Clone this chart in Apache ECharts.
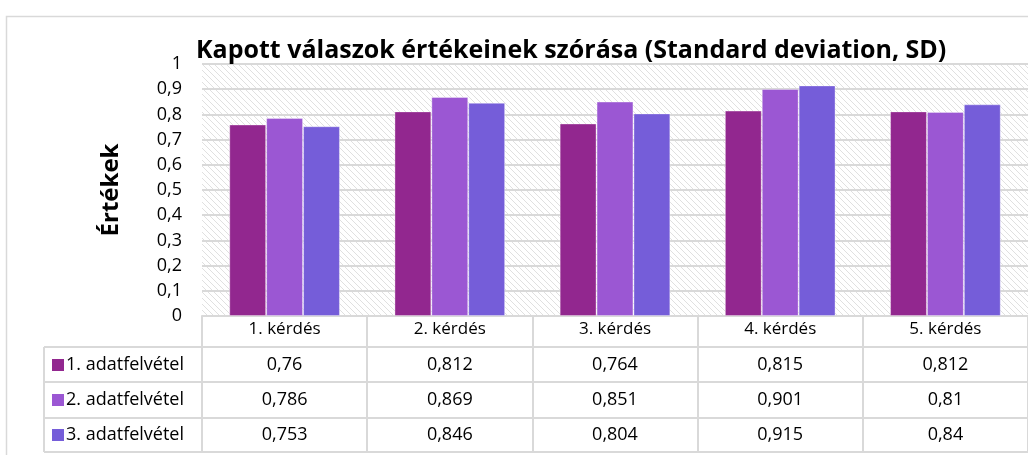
<!DOCTYPE html>
<html>
<head>
<meta charset="utf-8">
<script src="https://cdn.jsdelivr.net/npm/echarts@6/dist/echarts.min.js"></script>
<style>
  html, body { margin: 0; padding: 0; background: #fff; }
  #root { width: 1028px; height: 455px; }
</style>
</head>
<body>
<div id="root"></div>
<script>
  // chart data
  const categories = ['1. kérdés', '2. kérdés', '3. kérdés', '4. kérdés', '5. kérdés']
  const seriesNames = ['1. adatfelvétel', '2. adatfelvétel', '3. adatfelvétel']
  const survey1 = [0.76, 0.812, 0.764, 0.815, 0.812]
  const survey2 = [0.786, 0.869, 0.851, 0.901, 0.81]
  const survey3 = [0.753, 0.846, 0.804, 0.915, 0.84]
  const colors = ['#92278F', '#9B57D3', '#755DD9']

  const font = '"Open Sans", Lato, sans-serif'
  const fmt = v => String(v).replace('.', ',')

  // diagonal hatch for the plot background
  const hatch = document.createElement('canvas')
  hatch.width = 6
  hatch.height = 6
  const hc = hatch.getContext('2d')
  hc.fillStyle = '#fff'
  hc.fillRect(0, 0, 6, 6)
  hc.strokeStyle = '#e0e0e0'
  hc.lineWidth = 1
  hc.beginPath()
  hc.moveTo(-1, -1); hc.lineTo(7, 7)
  hc.moveTo(-1, 5); hc.lineTo(1, 7)
  hc.moveTo(5, -1); hc.lineTo(7, 1)
  hc.stroke()

  const chart = echarts.init(document.getElementById('root'))

  const allData = [survey1, survey2, survey3]

  const option = {
    animation: false,
    title: {
      text: 'Kapott válaszok értékeinek szórása (Standard deviation, SD)',
      left: 191,
      top: 33,
      textStyle: { fontFamily: font, fontSize: 25, fontWeight: 'bold', color: '#000' }
    },
    grid: {
      left: 202, top: 64, width: 840, height: 252,
      show: true, borderWidth: 0,
      backgroundColor: { image: hatch, repeat: 'repeat' }
    },
    xAxis: {
      type: 'category',
      data: categories,
      axisLine: { lineStyle: { color: '#d9d9d9', width: 2 } },
      axisTick: { show: true, length: 136, lineStyle: { color: '#d9d9d9', width: 2 } },
      axisLabel: { margin: 5, fontFamily: font, fontSize: 17, color: '#000' }
    },
    yAxis: {
      type: 'value',
      min: 0, max: 1, interval: 0.1,
      name: 'Értékek',
      nameLocation: 'middle',
      nameRotate: 90,
      nameGap: 79,
      nameTextStyle: { fontFamily: font, fontSize: 24, fontWeight: 'bold', color: '#000' },
      axisLine: { show: false },
      axisTick: { show: false },
      axisLabel: { margin: 20, fontFamily: font, fontSize: 18, color: '#000', formatter: v => fmt(+v.toFixed(1)) },
      splitLine: { lineStyle: { color: '#d9d9d9', width: 2 } }
    },
    series: seriesNames.map((name, i) => ({
      name: name,
      type: 'bar',
      data: allData[i],
      barGap: 0,
      barCategoryGap: '33%',
      itemStyle: { color: colors[i], borderColor: 'rgba(255,255,255,0.35)', borderWidth: 1 }
    }))
  }

  chart.setOption(option)

  // data table under the plot
  const rowLines = [347, 382, 418, 452]
  const rowMid = [365, 400, 435]
  const tableLeft = 44
  const graphics = []
  graphics.push({
    type: 'rect', silent: true,
    shape: { x: 6.5, y: 16.5, width: 1200, height: 500 },
    style: { fill: null, stroke: '#d9d9d9', lineWidth: 1.5 }
  })
  rowLines.forEach(y => {
    graphics.push({
      type: 'line', silent: true,
      shape: { x1: tableLeft, y1: y, x2: 1100, y2: y },
      style: { stroke: '#d9d9d9', lineWidth: 2 }
    })
  })
  graphics.push({
    type: 'line', silent: true,
    shape: { x1: tableLeft, y1: rowLines[0], x2: tableLeft, y2: 452 },
    style: { stroke: '#d9d9d9', lineWidth: 2 }
  })
  seriesNames.forEach((name, r) => {
    graphics.push({
      type: 'rect', silent: true,
      shape: { x: 52, y: rowMid[r] - 6, width: 12, height: 12 },
      style: { fill: colors[r] }
    })
    graphics.push({
      type: 'text', silent: true,
      style: { x: 66, y: rowMid[r], text: name, fontFamily: font, fontSize: 18, fill: '#000', verticalAlign: 'middle' }
    })
    allData[r].forEach((v, c) => {
      const cx = chart.convertToPixel({ xAxisIndex: 0 }, c)
      graphics.push({
        type: 'text', silent: true,
        style: { x: cx, y: rowMid[r], text: fmt(v), fontFamily: font, fontSize: 18, fill: '#000', align: 'center', verticalAlign: 'middle' }
      })
    })
  })
  chart.setOption({ graphic: graphics })
</script>
</body>
</html>
